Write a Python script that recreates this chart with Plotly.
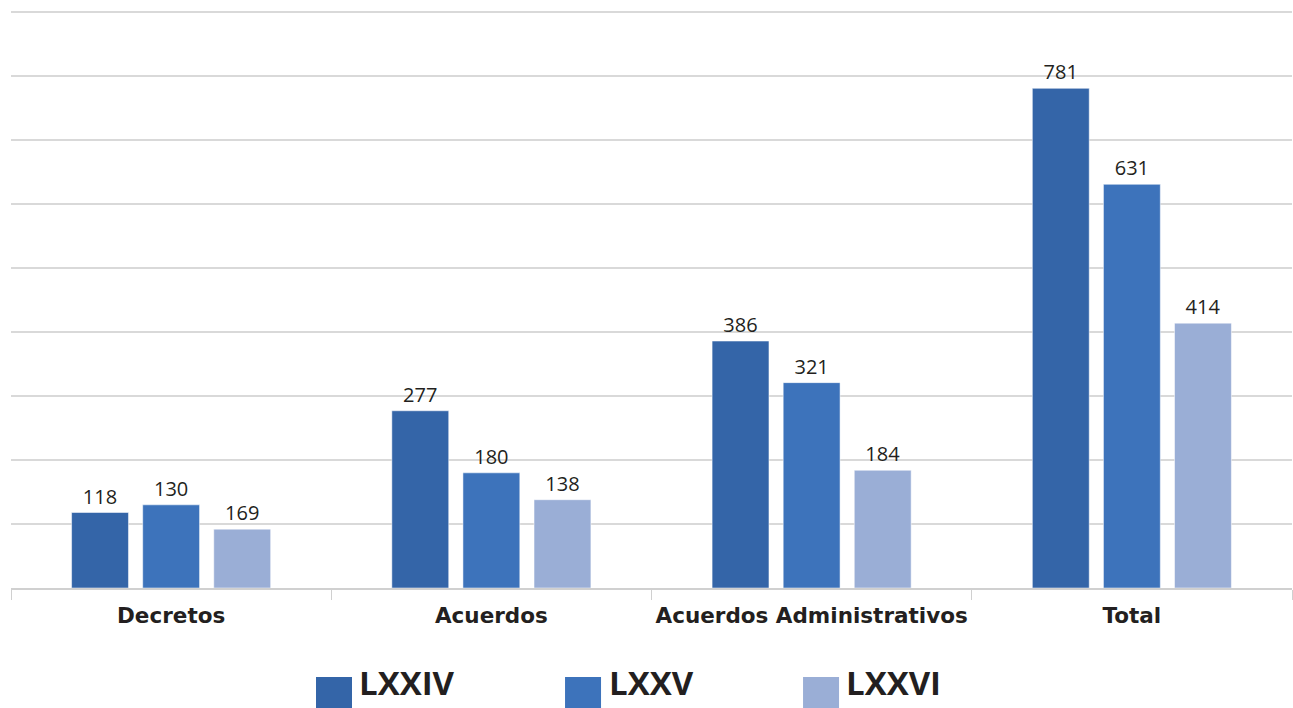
import plotly.graph_objects as go

categories = ["Decretos", "Acuerdos", "Acuerdos Administrativos", "Total"]
series_names = ["LXXIV", "LXXV", "LXXVI"]
values_lxxiv = [118, 277, 386, 781]
values_lxxv = [130, 180, 321, 631]
values_lxxvi = [92, 138, 184, 414]
labels_lxxiv = ["118", "277", "386", "781"]
labels_lxxv = ["130", "180", "321", "631"]
labels_lxxvi = ["169", "138", "184", "414"]
colors = ["#3465a8", "#3d73bb", "#9aaed6"]

series_values = [values_lxxiv, values_lxxv, values_lxxvi]
series_labels = [labels_lxxiv, labels_lxxv, labels_lxxvi]

FONT = "Open Sans"
CAT_FONT = "DejaVu Sans"
TEXT_COLOR = "#231f20"

fig = go.Figure()
for name, vals, labs, col in zip(series_names, series_values, series_labels, colors):
    fig.add_trace(go.Bar(
        x=categories, y=vals, name=name, text=labs,
        textposition="outside", cliponaxis=False,
        textfont=dict(family=FONT, size=20, color=TEXT_COLOR),
        marker=dict(color=col, line=dict(color="rgba(255,255,255,0.5)", width=1)),
        showlegend=False, hoverinfo="x+y",
    ))

# custom legend (large squares + bold labels), placed in paper coordinates
sq_left = [0.2381, 0.4325, 0.6183]
txt_left = [0.2700, 0.4650, 0.6500]
for name, col, sx, tx in zip(series_names, colors, sq_left, txt_left):
    fig.add_shape(type="rect", xref="paper", yref="paper",
                  x0=sx, x1=sx + 0.0281, y0=-0.2073, y1=-0.1537,
                  fillcolor=col, line=dict(width=0))
    fig.add_annotation(xref="paper", yref="paper", x=tx, y=-0.2055,
                       text="<b>" + name + "</b>", showarrow=False,
                       xanchor="left", yanchor="bottom",
                       font=dict(family=FONT, size=33, color=TEXT_COLOR))

fig.update_layout(
    width=1293, height=708,
    margin=dict(l=11, r=1, t=9, b=120, autoexpand=False),
    plot_bgcolor="white", paper_bgcolor="white",
    barmode="group", bargap=0.334, bargroupgap=0.2,
    xaxis=dict(
        tickson="boundaries", ticks="outside", ticklen=10, tickcolor="#d0d0d0",
        showline=True, linecolor="#d0d0d0", linewidth=1.5,
        tickfont=dict(family=CAT_FONT, size=21.5, color=TEXT_COLOR),
        tickprefix="<b>", ticksuffix="</b>", ticklabelstandoff=7,
        tickangle=0, automargin=False,
    ),
    yaxis=dict(
        range=[0, 905], dtick=100, showticklabels=False,
        showgrid=True, gridcolor="#d9d9d9", gridwidth=1.5,
        zeroline=False, fixedrange=True, automargin=False,
    ),
)

fig.write_html(
    "out.html",
    config={"displayModeBar": False},
    post_script="document.body.style.margin='0';document.body.style.overflow='hidden';",
)
